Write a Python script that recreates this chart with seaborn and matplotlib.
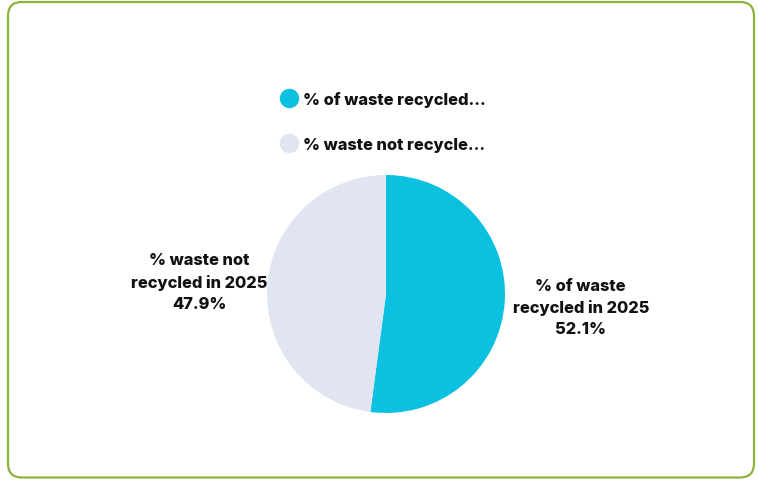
import matplotlib
matplotlib.use("Agg")
import matplotlib.pyplot as plt
from matplotlib.patches import FancyBboxPatch
from matplotlib.lines import Line2D
import numpy as np
import seaborn as sns

# Share of waste recycled vs not recycled in 2025
categories = ["% of waste recycled in 2025", "% waste not recycled in 2025"]
legend_labels = ["% of waste recycled...", "% waste not recycle..."]
slice_labels = ["% of waste\nrecycled in 2025", "% waste not\nrecycled in 2025"]
values = [52.1, 47.9]
colors = ["#0cc0df", "#e1e5f1"]

sns.set_theme(style="white")
FONT = ["Inter", "DejaVu Sans"]
plt.rcParams["font.family"] = FONT
TEXT_SIZE = 11.8
TEXT_WEIGHT = "heavy"

W, H = 759, 481
fig = plt.figure(figsize=(W / 100, H / 100), dpi=100)
fig.patch.set_facecolor("white")

# Rounded card border
border = FancyBboxPatch((8, 2.5), 746, 475.5,
                        boxstyle="round,pad=0,rounding_size=14",
                        transform=None, facecolor="none",
                        edgecolor="#8db33a", linewidth=1.6)
fig.patches.append(border)

# Pie axes: center (386, 295) px from top-left, radius 119 px
cx, cy, r = 386, 295, 119
ax = fig.add_axes([(cx - r) / W, (H - cy - r) / H, 2 * r / W, 2 * r / H])
wedges, _ = ax.pie(values, colors=colors, startangle=90, counterclock=False,
                   wedgeprops=dict(linewidth=0))
ax.set_xlim(-1, 1)
ax.set_ylim(-1, 1)
ax.set_aspect("equal")
ax.axis("off")

# Slice labels outside the pie, centred on each wedge's mid-angle
dists = [1.64, 1.57]
start = 90.0
for lab, val, d in zip(slice_labels, values, dists):
    span = 360.0 * val / sum(values)
    mid = np.deg2rad(start - span / 2)
    start -= span
    ax.text(d * np.cos(mid), d * np.sin(mid), f"{lab}\n{val}%",
            ha="center", va="center", fontsize=TEXT_SIZE, fontweight=TEXT_WEIGHT,
            color="#111111", linespacing=1.5, clip_on=False)

# Legend with round markers
handles = [Line2D([0], [0], marker="o", linestyle="none", markersize=13,
                  markerfacecolor=c, markeredgecolor=c) for c in colors]
fig.legend(handles, legend_labels, loc="upper left",
           bbox_to_anchor=(264 / W, 1 - 77 / H), frameon=False,
           handletextpad=0.25, labelspacing=1.85, handlelength=1.2,
           prop=dict(family=FONT, weight=TEXT_WEIGHT, size=TEXT_SIZE),
           labelcolor="#111111")

fig.savefig("out.png", dpi=100, facecolor="white")
